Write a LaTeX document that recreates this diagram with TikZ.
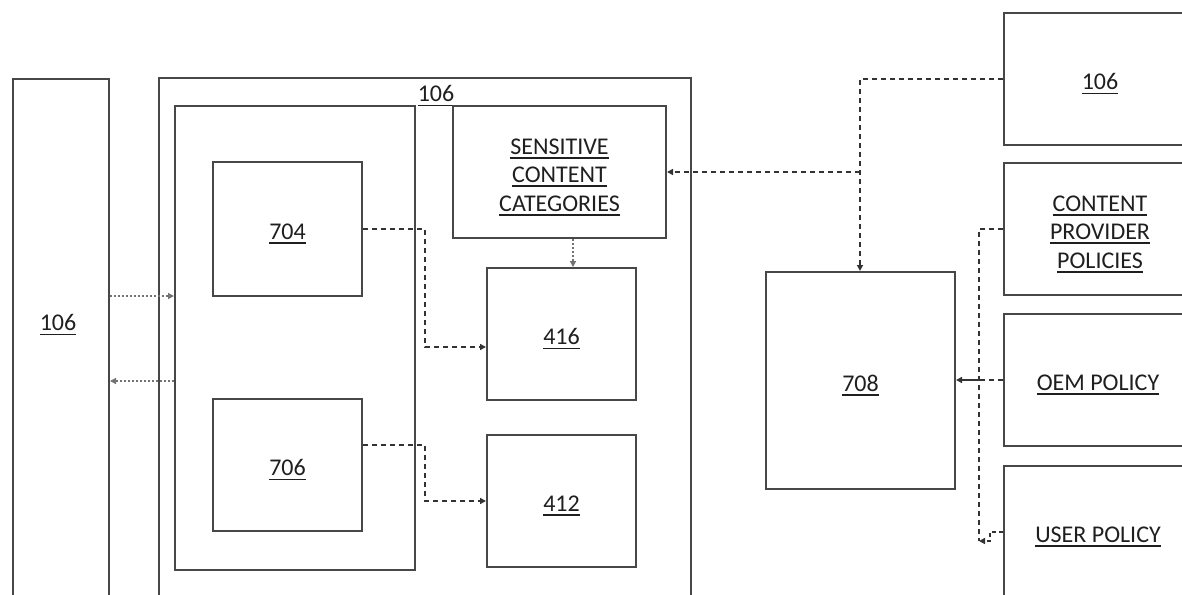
\documentclass[tikz,border=0pt]{standalone}
\usepackage{fontspec}
\setmainfont{Carlito}
\usetikzlibrary{arrows.meta}
% underlined label text
\newcommand\ulx[1]{\setbox0\hbox{#1}\rlap{\rule[-4.5pt]{\wd0}{1.6pt}}\box0}
\tikzset{
  box/.style={draw=black!72, line width=2pt, inner sep=0pt},
  lbl/.style={inner sep=0pt, text=black!88, font=\fontsize{24}{28.5}\selectfont, align=center},
  dsh/.style={draw=black!80, line width=1.8pt, dash pattern=on 5pt off 4pt},
  dot/.style={draw=black!55, line width=1.3pt, dash pattern=on 2pt off 2pt},
  tip/.style={-{Triangle[length=6pt,width=6pt]}},
}
\begin{document}
\begin{tikzpicture}[x=1pt,y=-1pt]
\clip (0,0) rectangle (1182,594);
\fill[white] (0,0) rectangle (1182,594);

% left column device
\node[box, minimum width=96, minimum height=561] (left) at (61,359.5) {};
\node[lbl] (leftlbl) at (58,325) {\ulx{106}};

% central device and its parts
\node[box, minimum width=532, minimum height=562] (dev) at (425,359) {};
\node[lbl] (devlbl) at (436,96) {\ulx{106}};
\node[box, minimum width=240, minimum height=464] (inner) at (295,338) {};
\node[box, minimum width=149, minimum height=134] (n704) at (287.5,229) {};
\node[box, minimum width=149, minimum height=132] (n706) at (287.5,465) {};
\node[box, minimum width=213, minimum height=132] (sens) at (559.5,172) {};
\node[box, minimum width=149, minimum height=132] (n416) at (561.5,334) {};
\node[box, minimum width=149, minimum height=132] (n412) at (561.5,501) {};

% policy engine
\node[box, minimum width=189, minimum height=217] (n708) at (860.5,380.5) {};

% right column
\node[box, minimum width=192, minimum height=132] (top) at (1100,79) {};
\node[box, minimum width=192, minimum height=132] (cp) at (1100,229) {};
\node[box, minimum width=192, minimum height=132] (oem) at (1100,380) {};
\node[box, minimum width=192, minimum height=132] (user) at (1100,532) {};

% box captions, set slightly below each box centre
\begin{scope}[every node/.append style={lbl, yshift=-5pt}]
\node (t704) at (n704) {\ulx{704}};
\node (t706) at (n706) {\ulx{706}};
\node (tsens) at (sens) {\ulx{SENSITIVE}\\\ulx{CONTENT}\\\ulx{CATEGORIES}};
\node (t416) at (n416) {\ulx{416}};
\node (t412) at (n412) {\ulx{412}};
\node (t708) at (n708) {\ulx{708}};
\node (ttop) at (top) {\ulx{106}};
\node (tcp) at (cp) {\ulx{CONTENT}\\\ulx{PROVIDER}\\\ulx{POLICIES}};
\node (toem) at ([xshift=-2pt]oem.center) {\ulx{OEM POLICY}};
\node (tuser) at ([xshift=-2pt]user.center) {\ulx{USER POLICY}};
\end{scope}

% connectors
\draw[dot,tip] (left.east |- 0,296) -- (inner.west |- 0,296);
\draw[dot,tip] (inner.west |- 0,381) -- (left.east |- 0,381);

\draw[dsh,tip] (n704.east) -- ++(62,0) |- (n416.west |- 0,347);
\draw[dsh,tip] (n706.east |- 0,445) -- ++(62,0) |- (n412.west);
\draw[dot,tip] (sens.south -| 573,0) -- (n416.north -| 573,0);

\draw[dsh,tip] (top.west) -| (n708.north -| 860,0);
\draw[dsh,tip] (sens.east -| 860,0) -- (sens.east);

\coordinate (bus) at (979,380);
\coordinate (busend) at (979,541);
\draw[dsh] (cp.west) -| (busend);
\draw[dsh] (oem.west) -- (bus);
\draw[draw=black!80, line width=1.8pt, tip] (bus) -- (n708.east |- bus);
\draw[dsh, dash pattern=on 4pt off 3pt, tip] (user.west) -- ++(-13,0) -- ++(0,9) -- (busend);
\end{tikzpicture}
\end{document}
